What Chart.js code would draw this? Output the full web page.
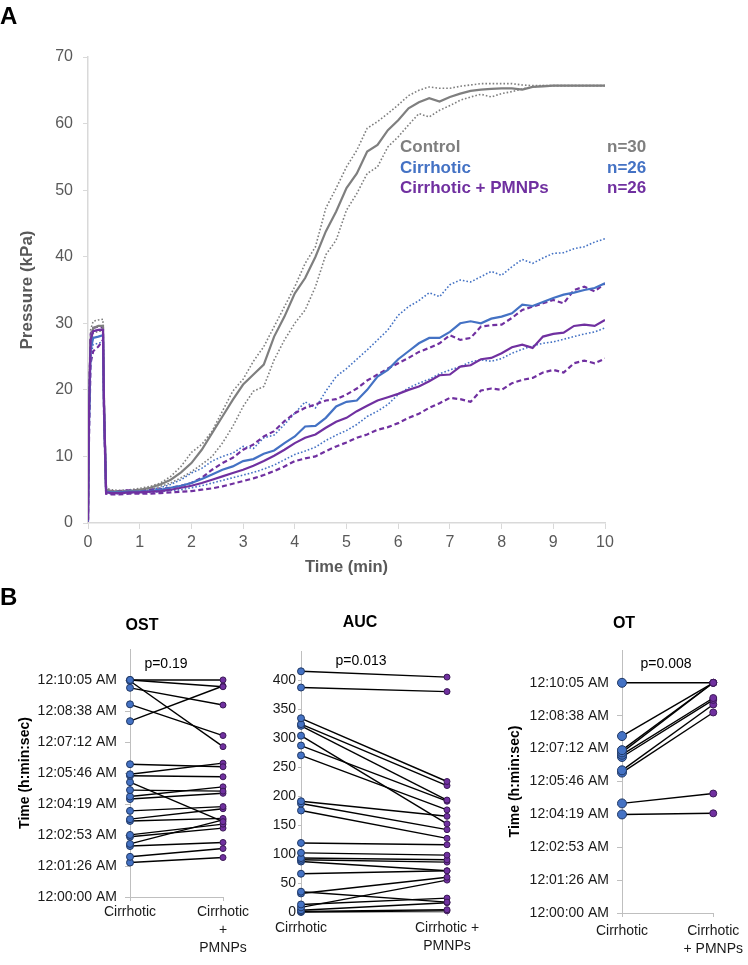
<!DOCTYPE html>
<html lang="en">
<head>
<meta charset="UTF-8">
<title>Pressure curves - Control vs Cirrhotic vs Cirrhotic + PMNPs</title>
<script src="https://cdn.jsdelivr.net/npm/chart.js"></script>
<style>
  body { margin: 0; background: #fff; font-family: "Liberation Sans", Arial, sans-serif; }
  #page { position: relative; width: 748px; height: 965px; overflow: hidden; background: #fff; }
  canvas { position: absolute; }
  .txt { position: absolute; white-space: nowrap; line-height: 1; }
  .center { transform: translate(-50%, -50%); }
  .mid { transform: translateY(-50%); }
</style>
</head>
<body>
<div id="page">
  <canvas id="pressureChart" width="640" height="590" style="left:0px;top:0px"></canvas>
  <canvas id="ostChart" width="256" height="365" style="left:0px;top:600px"></canvas>
  <canvas id="aucChart" width="244" height="365" style="left:256px;top:600px"></canvas>
  <canvas id="otChart" width="248" height="365" style="left:500px;top:600px"></canvas>

  <div class="txt mid" style="left:0px;top:16px;font-size:24px;font-weight:bold;">A</div>
  <div class="txt mid" style="left:0px;top:597px;font-size:24px;font-weight:bold;">B</div>
  <div id="legend"></div>

  <div class="txt center" style="left:142px;top:625px;font-size:16px;font-weight:bold;">OST</div>
  <div class="txt center" style="left:360px;top:622px;font-size:16px;font-weight:bold;">AUC</div>
  <div class="txt center" style="left:624px;top:623px;font-size:16px;font-weight:bold;">OT</div>
  <div class="txt center" style="left:166px;top:663px;font-size:14px;">p=0.19</div>
  <div class="txt center" style="left:361px;top:660px;font-size:14px;">p=0.013</div>
  <div class="txt center" style="left:666px;top:663px;font-size:14px;">p=0.008</div>
</div>

<script>
const FONT = '"Liberation Sans", Arial, sans-serif';
Chart.defaults.font.family = FONT;

// ---- panel A: pressure vs time (min) ----
const timeMin = [0, 0.02, 0.05, 0.1, 0.2, 0.29, 0.31, 0.35, 0.45, 0.6, 0.8,
  1.0, 1.2, 1.4, 1.6, 1.8, 2.0, 2.2, 2.4, 2.6, 2.8, 3.0, 3.2, 3.4, 3.6, 3.8,
  4.0, 4.2, 4.4, 4.6, 4.8, 5.0, 5.2, 5.4, 5.6, 5.8, 6.0, 6.2, 6.4, 6.6, 6.8,
  7.0, 7.2, 7.4, 7.6, 7.8, 8.0, 8.2, 8.4, 8.6, 8.8, 9.0, 9.2, 9.4, 9.6, 9.8, 10.0];

const controlMean = [0.5, 18, 27.5, 29.3, 29.6, 29.6, 18, 5.0, 4.8, 4.7, 4.8,
  5.0, 5.3, 5.8, 6.5, 7.6, 9.0, 11.0, 13.5, 16.0, 18.5, 20.8, 22.3, 23.8, 28.0, 31.0,
  34.5, 36.8, 40.0, 43.8, 46.8, 50.3, 52.5, 55.8, 56.8, 59.0, 60.5, 62.3, 63.2, 63.8, 63.3,
  64.0, 64.5, 64.9, 65.1, 65.2, 65.3, 65.3, 65.1, 65.5, 65.6, 65.7, 65.7, 65.7, 65.7, 65.7, 65.7];
const controlUpper = [0.8, 20, 29.0, 30.3, 30.5, 30.6, 19, 5.2, 5.0, 4.9, 5.0,
  5.2, 5.5, 6.0, 7.0, 8.5, 10.6, 11.8, 13.8, 16.8, 19.8, 21.6, 24.3, 26.5, 29.5, 32.5,
  35.5, 39.0, 41.5, 47.3, 50.3, 53.5, 56.0, 59.3, 60.3, 61.5, 62.8, 64.2, 65.0, 65.5, 65.3,
  65.3, 65.6, 65.8, 66.0, 66.0, 66.0, 66.0, 65.8, 65.7, 65.7, 65.7, 65.7, 65.7, 65.7, 65.7, 65.7];
const controlLower = [0.3, 16, 26.5, 28.5, 28.8, 28.8, 17, 4.7, 4.6, 4.5, 4.6,
  4.8, 5.0, 5.5, 6.0, 6.8, 7.7, 8.8, 10.0, 12.0, 14.5, 17.5, 19.8, 20.5, 24.5, 27.5,
  30.0, 32.0, 35.5, 40.3, 42.5, 47.0, 49.5, 52.5, 53.5, 56.5, 58.0, 59.8, 61.5, 61.0, 62.0,
  62.7, 63.5, 64.0, 64.4, 64.0, 64.5, 64.8, 65.2, 65.5, 65.7, 65.7, 65.7, 65.7, 65.7, 65.7, 65.7];

const cirrMean = [0.3, 15, 26, 27.8, 28.0, 28.2, 17, 4.7, 4.6, 4.6, 4.7,
  4.7, 4.8, 5.0, 5.3, 5.6, 6.0, 6.6, 7.3, 8.0, 8.5, 9.3, 9.6, 10.4, 10.9, 12.0,
  13.0, 14.5, 14.6, 15.8, 17.5, 18.2, 18.4, 20.0, 22.0, 23.0, 24.6, 25.8, 27.0, 27.8, 27.8,
  28.7, 30.0, 30.3, 30.0, 30.7, 31.0, 31.5, 32.8, 32.6, 33.2, 33.8, 34.3, 34.6, 35.0, 35.3, 36.0];
const cirrUpper = [0.5, 16, 27.5, 28.8, 29.0, 29.2, 17.5, 4.9, 4.8, 4.8, 4.9,
  4.9, 5.0, 5.3, 5.8, 6.5, 7.5, 8.2, 9.3, 10.0, 10.5, 11.5, 11.2, 12.8, 13.2, 14.8,
  16.5, 18.2, 17.3, 19.8, 22.0, 23.2, 24.6, 26.0, 27.5, 29.0, 31.2, 32.5, 33.4, 34.6, 34.0,
  35.8, 36.5, 36.2, 37.0, 37.8, 37.2, 38.5, 39.6, 39.0, 39.8, 40.5, 40.6, 41.2, 41.5, 42.2, 42.7];
const cirrLower = [0.2, 14, 25, 26.8, 27.0, 27.2, 16, 4.5, 4.4, 4.4, 4.5,
  4.5, 4.6, 4.7, 4.9, 5.0, 5.3, 5.6, 6.0, 6.4, 6.8, 7.2, 7.6, 8.1, 8.7, 9.5,
  10.3, 10.8, 11.4, 12.4, 13.2, 13.9, 14.8, 16.0, 16.8, 17.8, 19.3, 20.3, 21.0, 21.6, 22.4,
  23.0, 23.5, 24.2, 24.5, 24.3, 24.7, 25.5, 26.1, 26.6, 27.0, 27.2, 27.6, 28.0, 28.4, 28.7, 29.3];

const pmnpMean = [0.4, 17, 27.5, 28.8, 29.0, 29.0, 17.5, 4.6, 4.5, 4.5, 4.6,
  4.6, 4.7, 4.8, 5.0, 5.3, 5.6, 6.0, 6.5, 7.0, 7.5, 8.0, 8.6, 9.3, 10.1, 11.0,
  12.0, 12.8, 13.3, 14.3, 15.2, 15.8, 16.8, 17.6, 18.4, 18.9, 19.4, 20.0, 20.5, 21.3, 22.2,
  22.3, 23.5, 23.7, 24.6, 24.8, 25.5, 26.4, 26.8, 26.3, 28.0, 28.4, 28.6, 29.6, 29.8, 29.6, 30.5];
const pmnpUpper = [0.5, 18, 28.3, 29.3, 29.5, 29.3, 18, 4.9, 4.8, 4.8, 4.9,
  4.9, 5.0, 5.1, 5.3, 5.6, 6.0, 6.8, 8.0, 9.0, 9.8, 11.0, 11.8, 13.0, 13.8, 15.3,
  16.5, 17.3, 17.8, 18.4, 18.6, 19.3, 20.2, 21.4, 22.3, 23.2, 24.0, 24.8, 25.7, 26.3, 27.0,
  28.2, 27.5, 27.8, 29.5, 29.7, 29.8, 30.8, 32.0, 32.5, 33.0, 33.5, 33.0, 35.0, 35.5, 34.8, 36.0];
const pmnpLower = [0.2, 13, 24, 25.8, 26.5, 27.5, 16, 4.4, 4.3, 4.3, 4.4,
  4.4, 4.4, 4.5, 4.6, 4.7, 4.8, 5.0, 5.2, 5.5, 5.9, 6.3, 6.7, 7.2, 7.8, 8.5,
  9.3, 9.7, 10.0, 10.8, 11.5, 12.1, 12.8, 13.3, 14.0, 14.4, 15.0, 15.8, 16.4, 17.3, 18.0,
  18.8, 18.6, 18.2, 19.9, 20.2, 20.0, 21.0, 21.5, 21.8, 22.6, 23.0, 22.6, 24.0, 24.4, 24.0, 24.7];

const groupNames = ['Control', 'Cirrhotic', 'Cirrhotic + PMNPs'];
const groupN = ['n=30', 'n=26', 'n=26'];

// ---- panel B: paired values (time in seconds, AUC in kPa*min) ----
const ostCirrhotic = [605, 605, 602, 583, 537, 490, 370, 342, 338, 320, 298, 280, 273, 240, 217, 212, 173, 168, 148, 142, 112, 96];
const ostPMNPs     = [605, 586, 419, 535, 450, 588, 363, 373, 335, 210, 295, 307, 289, 252, 246, 219, 203, 192, 215, 152, 135, 110];

const aucCirrhotic = [415, 387, 334, 324, 321, 304, 287, 270, 191, 187, 175, 119, 102, 93, 90, 87, 66, 35, 32, 13, 8, 3, 1, 0];
const aucPMNPs     = [405, 380, 225, 218, 193, 152, 191, 176, 165, 142, 127, 116, 98, 90, 86, 71, 71, 17, 60, 24, 55, 16, 4, 2];

const otCirrhotic = [605, 465, 428, 422, 416, 410, 375, 369, 288, 259];
const otPMNPs     = [605, 605, 605, 605, 565, 560, 548, 527, 314, 262];

const timeTickSeconds = [0, 86.4, 172.8, 259.2, 345.6, 432, 518.4, 604.8];
const timeTickLabels = ['12:00:00 AM', '12:01:26 AM', '12:02:53 AM', '12:04:19 AM',
  '12:05:46 AM', '12:07:12 AM', '12:08:38 AM', '12:10:05 AM'];
const aucTickValues = [0, 50, 100, 150, 200, 250, 300, 350, 400];

const ostCategories = ['Cirrhotic', ['Cirrhotic', '+', 'PMNPs']];
const aucCategories = ['Cirrhotic', ['Cirrhotic +', 'PMNPs']];
const otCategories = ['Cirrhotic', ['Cirrhotic', '+ PMNPs']];

const GRAY = '#7f7f7f';
const BLUE = '#4472c4';
const PURPLE = '#7030a0';

// legend text (drawn as html next to the curves)
const legendBox = document.getElementById('legend');
const legendColors = [GRAY, BLUE, PURPLE];
const legendY = [146, 167, 187];
groupNames.forEach((name, i) => {
  legendBox.insertAdjacentHTML('beforeend',
    `<div class="txt mid" style="left:400px;top:${legendY[i]}px;font-size:17px;font-weight:bold;color:${legendColors[i]}">${name}</div>` +
    `<div class="txt mid" style="left:607px;top:${legendY[i]}px;font-size:17px;font-weight:bold;color:${legendColors[i]}">${groupN[i]}</div>`);
});

function curve(values, color, style) {
  const ds = {
    data: timeMin.map((t, i) => ({ x: t, y: values[i] })),
    borderColor: color,
    borderWidth: 2.2,
    pointRadius: 0,
    tension: 0,
    fill: false
  };
  if (style === 'dot') { ds.borderDash = [1.6, 2]; ds.borderWidth = 1.6; }
  if (style === 'dash') { ds.borderDash = [5, 3]; ds.borderWidth = 2.2; }
  return ds;
}

const AXIS_A = '#d9d9d9';
new Chart(document.getElementById('pressureChart'), {
  type: 'line',
  data: {
    datasets: [
      curve(pmnpMean, PURPLE, 'solid'),
      curve(cirrMean, BLUE, 'solid'),
      curve(controlMean, GRAY, 'solid'),
      curve(pmnpUpper, PURPLE, 'dash'),
      curve(pmnpLower, PURPLE, 'dash'),
      curve(cirrUpper, BLUE, 'dot'),
      curve(cirrLower, BLUE, 'dot'),
      curve(controlUpper, GRAY, 'dot'),
      curve(controlLower, GRAY, 'dot')
    ]
  },
  options: {
    responsive: false,
    animation: false,
    layout: { padding: { top: 57, right: 35, left: 0, bottom: 0 } },
    plugins: { legend: { display: false }, tooltip: { enabled: false } },
    scales: {
      x: {
        type: 'linear', min: 0, max: 10,
        afterFit: s => { s.height = 67; },
        grid: { drawOnChartArea: false, tickLength: 6, color: AXIS_A },
        border: { color: AXIS_A, width: 1.5 },
        ticks: { stepSize: 1, padding: 4, color: '#595959', font: { size: 16 } },
        title: { display: true, text: 'Time (min)', color: '#595959',
          font: { size: 16.5, weight: 'bold' }, padding: { top: 0, bottom: 13 } }
      },
      y: {
        min: 0, max: 70,
        afterFit: s => { s.width = 88; },
        grid: { drawOnChartArea: false, tickLength: 5, color: AXIS_A },
        border: { color: AXIS_A, width: 1.5 },
        ticks: { stepSize: 10, padding: 10, color: '#595959', font: { size: 16 } },
        title: { display: true, text: 'Pressure (kPa)', color: '#595959',
          font: { size: 17, weight: 'bold' }, padding: { top: 17, bottom: 0 } }
      }
    }
  }
});

// ---- panel B helpers ----
const AXIS_B = '#bfbfbf';
function pairs(left, right, leftR, rightR) {
  return left.map((v, i) => ({
    data: [{ x: 0, y: v }, { x: 1, y: right[i] }],
    borderColor: '#000',
    borderWidth: 1.4,
    pointBackgroundColor: [BLUE, PURPLE],
    pointBorderColor: ['#203864', '#3c1a57'],
    pointBorderWidth: 1,
    pointRadius: [leftR, rightR],
    tension: 0,
    clip: false
  }));
}

function pairedChart(id, datasets, cfg) {
  return new Chart(document.getElementById(id), {
    type: 'line',
    data: { datasets: datasets },
    options: {
      responsive: false,
      animation: false,
      layout: { padding: { top: cfg.top, right: cfg.right, left: 0, bottom: 0 } },
      plugins: { legend: { display: false }, tooltip: { enabled: false } },
      scales: {
        x: {
          type: 'linear', min: 0, max: 1,
          afterBuildTicks: s => { s.ticks = [{ value: 0 }, { value: 1 }]; },
          afterFit: s => { s.height = cfg.xHeight; },
          grid: { drawOnChartArea: false, tickLength: 4, color: AXIS_B },
          border: { color: AXIS_B },
          ticks: { padding: cfg.xPad, autoSkip: false, minRotation: 0, maxRotation: 0,
            color: '#1a1a1a', font: { size: 14, lineHeight: 1.3 },
            callback: (v, i) => cfg.cats[i] }
        },
        y: {
          min: 0, max: cfg.max,
          afterBuildTicks: s => { s.ticks = cfg.tickValues.map(v => ({ value: v })); },
          afterFit: s => { s.width = cfg.yWidth; },
          grid: { drawOnChartArea: false, tickLength: cfg.yTick, color: AXIS_B },
          border: { color: AXIS_B },
          ticks: { padding: cfg.yPad, autoSkip: false, color: '#1a1a1a', font: { size: 14 },
            callback: (v, i) => cfg.tickLabels[i] },
          title: cfg.yTitle
            ? { display: true, text: cfg.yTitle, color: '#000', font: { size: 14, weight: 'bold' },
                padding: { top: cfg.titlePad, bottom: 0 } }
            : { display: false }
        }
      }
    }
  });
}

pairedChart('ostChart', pairs(ostCirrhotic, ostPMNPs, 3.5, 3), {
  top: 49, right: 33, xHeight: 68, xPad: 2, yWidth: 130, yTick: 5, yPad: 8,
  max: 691.2, tickValues: timeTickSeconds, tickLabels: timeTickLabels,
  cats: ostCategories, yTitle: 'Time (h:min:sec)', titlePad: 16.6
});

pairedChart('aucChart', pairs(aucCirrhotic, aucPMNPs, 3.5, 3), {
  top: 51, right: 53, xHeight: 53, xPad: 3, yWidth: 45, yTick: 3, yPad: 2,
  max: 450, tickValues: aucTickValues, tickLabels: aucTickValues.map(String),
  cats: aucCategories, yTitle: null
});

pairedChart('otChart', pairs(otCirrhotic, otPMNPs, 4.5, 3.5), {
  top: 50, right: 30, xHeight: 52, xPad: 5, yWidth: 122, yTick: 5, yPad: 8,
  max: 691.2, tickValues: timeTickSeconds, tickLabels: timeTickLabels,
  cats: otCategories, yTitle: 'Time (h:min:sec)', titlePad: 6.6
});
</script>
</body>
</html>
